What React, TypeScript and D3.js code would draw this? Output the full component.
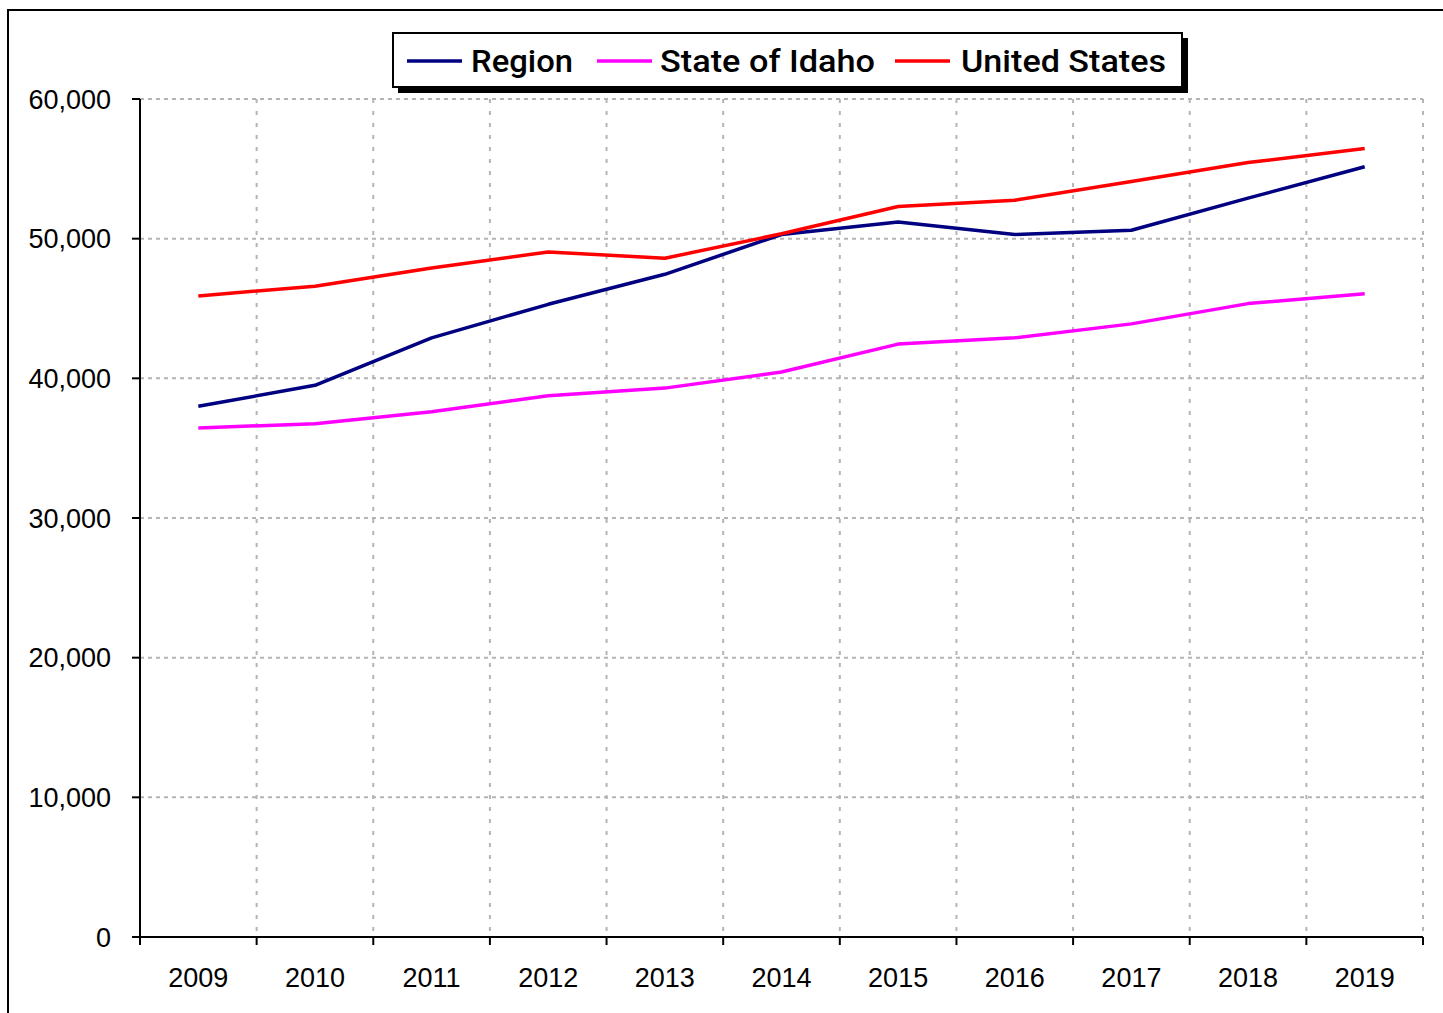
import React from "react";
import * as d3 from "d3";

const years = ["2009","2010","2011","2012","2013","2014","2015","2016","2017","2018","2019"];
const region = [38000, 39500, 42900, 45300, 47450, 50300, 51200, 50300, 50600, 52900, 55150];
const idaho = [36450, 36750, 37600, 38750, 39300, 40450, 42450, 42900, 43900, 45350, 46050];
const usa = [45900, 46600, 47900, 49050, 48600, 50350, 52300, 52750, 54100, 55450, 56450];
const yTicks = [0, 10000, 20000, 30000, 40000, 50000, 60000];
const seriesNames = ["Region", "State of Idaho", "United States"];
const seriesColors = ["#000080", "#FF00FF", "#FF0000"];

export default function App() {
  const left = 140, right = 1423, top = 99, bottom = 937;
  const x = d3.scaleBand<string>().domain(years).range([left, right]).padding(0);
  const y = d3.scaleLinear().domain([0, 60000]).range([bottom, top]);
  const line = d3.line<number>().x((_, i) => (x(years[i]) as number) + x.bandwidth() / 2).y(d => y(d));
  const fmt = d3.format(",");
  const series = [region, idaho, usa];
  const boundaries = years.map(yr => x(yr) as number).concat([right]);
  const font = "'Liberation Sans', Arial, sans-serif";
  const legendItems = [
    { lx: 407, tx: 471, w: 102 },
    { lx: 597, tx: 660, w: 215 },
    { lx: 895, tx: 961, w: 205 },
  ];
  return (
    <svg width={1443} height={1013} style={{ position: "absolute", left: 0, top: 0, background: "#fff" }}>
      <rect x={8} y={10} width={1440} height={1010} fill="#fff" stroke="#000" strokeWidth={2} />
      {yTicks.filter(t => t > 0).map(t => (
        <line key={"gy" + t} x1={left} x2={right} y1={y(t)} y2={y(t)} stroke="#b4b4b4" strokeWidth={2} strokeDasharray="4,4" />
      ))}
      {boundaries.slice(1).map((bx, i) => (
        <line key={"gx" + i} x1={bx} x2={bx} y1={top} y2={bottom} stroke="#b4b4b4" strokeWidth={2} strokeDasharray="4,8" />
      ))}
      <line x1={left} x2={left} y1={top} y2={bottom} stroke="#000" strokeWidth={2} />
      <line x1={left - 8} x2={right} y1={bottom} y2={bottom} stroke="#000" strokeWidth={2} />
      {yTicks.map(t => (
        <g key={"ty" + t}>
          <line x1={left - 8} x2={left} y1={y(t)} y2={y(t)} stroke="#000" strokeWidth={2} />
          <text x={111} y={y(t)} dy="0.36em" textAnchor="end" fontFamily={font} fontSize={27} fill="#000">{fmt(t)}</text>
        </g>
      ))}
      {boundaries.map((bx, i) => (
        <line key={"tx" + i} x1={bx} x2={bx} y1={bottom} y2={bottom + 8} stroke="#000" strokeWidth={2} />
      ))}
      {years.map(yr => (
        <text key={"lx" + yr} x={(x(yr) as number) + x.bandwidth() / 2} y={987} textAnchor="middle" fontFamily={font} fontSize={27} fill="#000">{yr}</text>
      ))}
      {series.map((s, i) => (
        <path key={"s" + i} d={line(s) as string} fill="none" stroke={seriesColors[i]} strokeWidth={3.5} strokeLinejoin="round" />
      ))}
      <rect x={398} y={38} width={790} height={55} fill="#000" />
      <rect x={393} y={33} width={789} height={54} fill="#fff" stroke="#000" strokeWidth={2} />
      {seriesNames.map((n, i) => (
        <g key={"lg" + i}>
          <line x1={legendItems[i].lx} x2={legendItems[i].lx + 55} y1={61} y2={61} stroke={seriesColors[i]} strokeWidth={3.5} />
          <text x={legendItems[i].tx} y={72} fontFamily="Roboto, sans-serif" fontWeight={500} fontSize={31}
            textLength={legendItems[i].w} lengthAdjust="spacingAndGlyphs" fill="#000">{n}</text>
        </g>
      ))}
    </svg>
  );
}
